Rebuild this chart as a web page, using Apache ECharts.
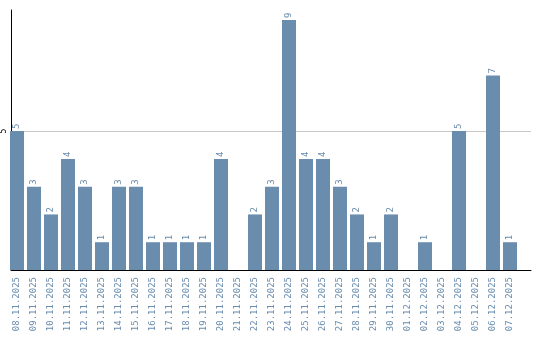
<!DOCTYPE html>
<html>
<head>
<meta charset="utf-8">
<script src="https://cdn.jsdelivr.net/npm/echarts@6/dist/echarts.min.js"></script>
<style>html,body{margin:0;padding:0;background:#fff}#c{width:540px;height:340px}</style>
</head>
<body>
<div id="c"></div>
<script>
const categories = ["08.11.2025","09.11.2025","10.11.2025","11.11.2025","12.11.2025","13.11.2025","14.11.2025","15.11.2025","16.11.2025","17.11.2025","18.11.2025","19.11.2025","20.11.2025","21.11.2025","22.11.2025","23.11.2025","24.11.2025","25.11.2025","26.11.2025","27.11.2025","28.11.2025","29.11.2025","30.11.2025","01.12.2025","02.12.2025","03.12.2025","04.12.2025","05.12.2025","06.12.2025","07.12.2025"];
const values = [5,3,2,4,3,1,3,3,1,1,1,1,4,0,2,3,9,4,4,3,2,1,2,0,1,0,5,0,7,1];
const yTicks = [5];

const blue = '#6a8cad';
const chart = echarts.init(document.getElementById('c'), null, {renderer:'canvas'});
chart.setOption({
  animation: false,
  grid: [
    {left: 8.5, top: 10, width: 510, height: 260},
    {left: 10, top: 10, right: 9, height: 260}
  ],
  xAxis: [
    {type: 'category', gridIndex: 0, data: categories,
     axisLine: {show: false}, axisTick: {show: false},
     axisLabel: {rotate: 90, interval: 0, color: blue, fontFamily: 'DejaVu Sans Mono', fontSize: 9, margin: 7}},
    {type: 'value', gridIndex: 1, min: 0, max: 1,
     axisLine: {show: true, onZero: false, lineStyle: {color: '#000', width: 1}},
     axisTick: {show: false}, axisLabel: {show: false}, splitLine: {show: false}}
  ],
  yAxis: [
    {type: 'value', gridIndex: 0, min: 0, max: 9.36, show: false, splitLine: {show: false}},
    {type: 'value', gridIndex: 1, min: 0, max: 9.36, interval: 5,
     axisLine: {show: true, lineStyle: {color: '#000', width: 1}},
     axisTick: {show: false},
     axisLabel: {rotate: 90, fontSize: 8, color: '#000', fontFamily: 'DejaVu Sans Mono', margin: 3,
       formatter: v => yTicks.includes(v) ? String(v) : ''},
     splitLine: {show: true, showMinLine: false, showMaxLine: false, lineStyle: {color: '#c8c8c8', width: 1}}}
  ],
  series: [{
    type: 'bar', xAxisIndex: 0, yAxisIndex: 0, data: values,
    barCategoryGap: '17.6%',
    itemStyle: {color: blue},
    label: {show: true, position: 'top', rotate: 90, align: 'left', verticalAlign: 'middle', distance: 2,
      color: blue, fontFamily: 'DejaVu Sans Mono', fontSize: 9,
      formatter: p => p.value ? String(p.value) : ''}
  }]
});
</script>
</body>
</html>
